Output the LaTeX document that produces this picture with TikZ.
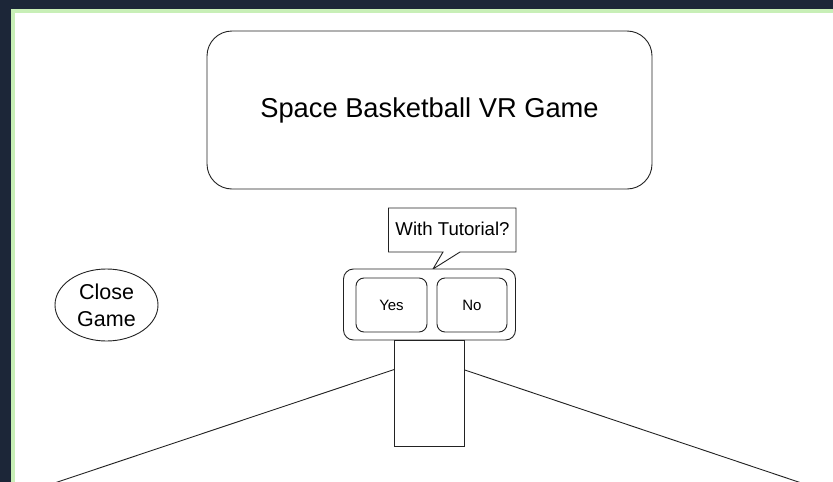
\documentclass[tikz,border=0pt]{standalone}
\usepackage{fontspec}
\setmainfont{Liberation Sans}
\usetikzlibrary{shapes.geometric}
\definecolor{darkbg}{HTML}{1C2638}
\definecolor{greenedge}{HTML}{C8EFB7}
\definecolor{ink}{HTML}{222222}
\begin{document}
\begin{tikzpicture}[x=1pt,y=-1pt,
  box/.style={draw=ink, line width=0.9pt, fill=white, inner sep=0pt}]
\useasboundingbox (0,0) rectangle (833,482);
\fill[darkbg] (0,0) rectangle (833,482);
\fill[greenedge] (11,9) rectangle (833,482);
\fill[white] (15,13) rectangle (833,482);

% title
\node[box, rounded corners=25pt, minimum width=445pt, minimum height=158pt,
  font=\fontsize{27.3}{30}\selectfont] (title) at (429.5,110) {Space Basketball VR Game};

% callout
\draw[ink, line width=0.9pt, fill=white, line join=miter]
  (388.5,208) -- (516,208) -- (516,252) -- (460,252) -- (433,269) -- (443,252) -- (388.5,252) -- cycle;
\node[font=\fontsize{18.6}{20}\selectfont, inner sep=0pt] (tut) at (452.5,229) {With Tutorial?};

% container and buttons
\node[box, rounded corners=10pt, minimum width=172pt, minimum height=71pt] (cont) at (429.5,304.5) {};
\node[box, rounded corners=8pt, minimum width=71pt, minimum height=54pt,
  font=\fontsize{15}{16}\selectfont] (yes) at (391.5,305) {Yes};
\node[box, rounded corners=8pt, minimum width=70pt, minimum height=54pt,
  font=\fontsize{15}{16}\selectfont] (no) at (472,305) {No};

% stem
\node[box, minimum width=70pt, minimum height=106pt] (stem) at (429.5,393.5) {};

% close game
\node[draw=ink, line width=0.9pt, ellipse, minimum width=103pt, minimum height=72pt, inner sep=0pt,
  align=center, font=\fontsize{21.5}{27}\selectfont] (close) at (106.5,305) {Close\\Game};

% lines
\coordinate (bl) at (56,482.5);
\coordinate (br) at (800,482.5);
\draw[ink, line width=0.9pt] ([yshift=-29.5pt]stem.north west) -- (bl);
\draw[ink, line width=0.9pt] ([yshift=-30pt]stem.north east) -- (br);
\end{tikzpicture}
\end{document}
